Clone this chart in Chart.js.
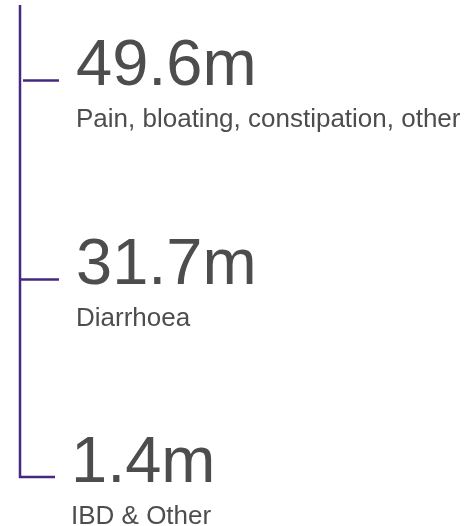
<!DOCTYPE html>
<html>
<head>
<meta charset="utf-8">
<script src="https://cdn.jsdelivr.net/npm/chart.js@4"></script>
<style>
  html, body { margin: 0; padding: 0; background: #ffffff; }
  #wrap { width: 472px; height: 526px; position: relative; }
</style>
</head>
<body>
<div id="wrap"><canvas id="c"></canvas></div>
<script>
// ---- data ----
const categories = ['Pain, bloating, constipation, other', 'Diarrhoea', 'IBD & Other'];
const values = [49.6, 31.7, 1.4];
const unit = 'm';

// ---- style ----
const lineColor = '#45287f';
const textColor = '#4d4d4d';
const fontFamily = '"Liberation Sans", Arial, Helvetica, sans-serif';

const bracketPlugin = {
  id: 'bracket',
  afterDraw(chart) {
    const ctx = chart.ctx;
    const y = chart.scales.y;
    const area = chart.chartArea;
    const lineX = area.left + 20;
    const n = categories.length;
    const lastY = y.getPixelForValue(n - 1);
    ctx.save();
    ctx.strokeStyle = lineColor;
    ctx.lineWidth = 2.5;
    ctx.lineCap = 'butt';
    ctx.lineJoin = 'miter';
    // vertical spine + bottom corner
    ctx.beginPath();
    ctx.moveTo(lineX, area.top);
    ctx.lineTo(lineX, lastY);
    ctx.lineTo(lineX + 35, lastY);
    ctx.stroke();
    // ticks
    for (let i = 0; i < n - 1; i++) {
      const py = Math.round(y.getPixelForValue(i)) + 0.5;
      ctx.beginPath();
      ctx.moveTo(lineX + (i === 0 ? 3 : 0), py);
      ctx.lineTo(lineX + 39, py);
      ctx.stroke();
    }
    // texts
    ctx.fillStyle = textColor;
    ctx.textBaseline = 'alphabetic';
    ctx.textAlign = 'left';
    for (let i = 0; i < n; i++) {
      const py = y.getPixelForValue(i);
      const tx = lineX + (i === n - 1 ? 51 : 56);
      ctx.font = '65px ' + fontFamily;
      ctx.fillText(values[i].toFixed(1) + unit, tx, py + 5);
      ctx.font = '26px ' + fontFamily;
      ctx.fillText(categories[i], tx, py + 47);
    }
    ctx.restore();
  }
};

new Chart(document.getElementById('c'), {
  type: 'scatter',
  data: {
    datasets: [{
      data: values.map((v, i) => ({ x: 0, y: i })),
      pointRadius: 0,
      pointHoverRadius: 0
    }]
  },
  options: {
    responsive: true,
    maintainAspectRatio: false,
    animation: false,
    events: [],
    layout: { padding: { top: 5, bottom: 49, left: 0, right: 0 } },
    plugins: { legend: { display: false }, tooltip: { enabled: false } },
    scales: {
      x: { display: false, min: 0, max: 1 },
      y: { display: false, reverse: true, min: -0.38, max: 2 }
    }
  },
  plugins: [bracketPlugin]
});
</script>
</body>
</html>
